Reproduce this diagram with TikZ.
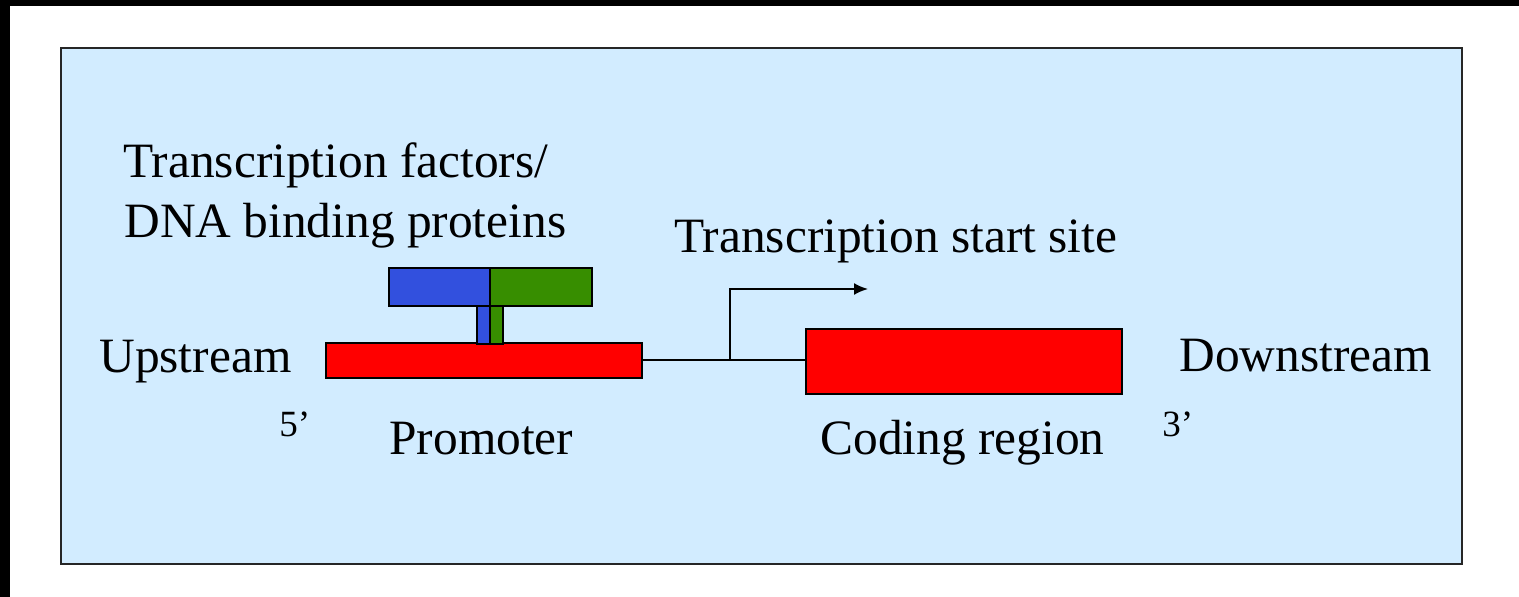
\documentclass[tikz,border=0pt]{standalone}
\usepackage{fontspec}
\setmainfont{Liberation Serif}
\usetikzlibrary{arrows.meta}
\definecolor{panelblue}{RGB}{210,236,255}
\definecolor{factorblue}{RGB}{50,80,222}
\definecolor{factorgreen}{RGB}{55,142,0}

\begin{document}
\begin{tikzpicture}[
      x = 0.5pt, y = -0.5pt,
      region/.style={
        draw = black,
        line width = 0.85pt,
        fill = red,
        inner sep = 0pt,
        minimum width = 158pt,
      },
      factor/.style={
        draw = black,
        line width = 0.85pt,
        inner sep = 0pt,
        minimum height = 19pt,
      },
      strand/.style={line width = 1pt, black},
      start arrow/.style={strand, -{Latex[length = 7pt, width = 6pt]}},
      label/.style={
        anchor = base west,
        inner sep = 0pt,
        font = \fontsize{24.7}{30}\selectfont,
      },
      prime/.style={label, font = \fontsize{18.5}{22}\selectfont},
    ]
    \useasboundingbox (0,0) rectangle (1519,597);
    \fill[white] (0,0) rectangle (1519,597);
    \fill[black] (0,0) rectangle (10,597);
    \fill[black] (0,0) rectangle (1519,6);
    \draw[line width = 1.4pt, draw = black!85, fill = panelblue]
      (61,48) rectangle (1462,564);

    % DNA regions
    \node[region, minimum height = 17.5pt] (promoter) at (484,360.5) {};
    \node[region, minimum height = 32.5pt] (coding) at (964,361.5) {};

    % bound protein
    \node[factor, fill = factorblue, minimum width = 6.5pt] (bluestem) at (483.5,325) {};
    \node[factor, fill = factorgreen, minimum width = 6.5pt] (greenstem) at (496.5,325) {};
    \node[factor, fill = factorblue, minimum width = 50.5pt] (bluehead) at (439.5,287) {};
    \node[factor, fill = factorgreen, minimum width = 51pt] (greenhead) at (541,287) {};

    \coordinate (tss) at (730,360.5);
    \coordinate (tsstip) at (868,289);

    \draw[strand] (promoter.east) -- (promoter.east -| coding.west);
    \draw[start arrow] (tss) |- (tsstip);

    \node[label] (factors1) at (123,178) {Transcription factors/};
    \node[label] (factors2) at (124,238) {DNA binding proteins};
    \node[label] (startsite) at (674,253) {Transcription start site};
    \node[label] (upstream) at (99,373) {Upstream};
    \node[label] (downstream) at (1179,372) {Downstream};
    \node[label] (promlabel) at (389,455) {Promoter};
    \node[label] (codinglabel) at (820,455) {Coding region};
    \node[prime] (five) at (279,437) {5’};
    \node[prime] (three) at (1162,437) {3’};
  \end{tikzpicture}
\end{document}
